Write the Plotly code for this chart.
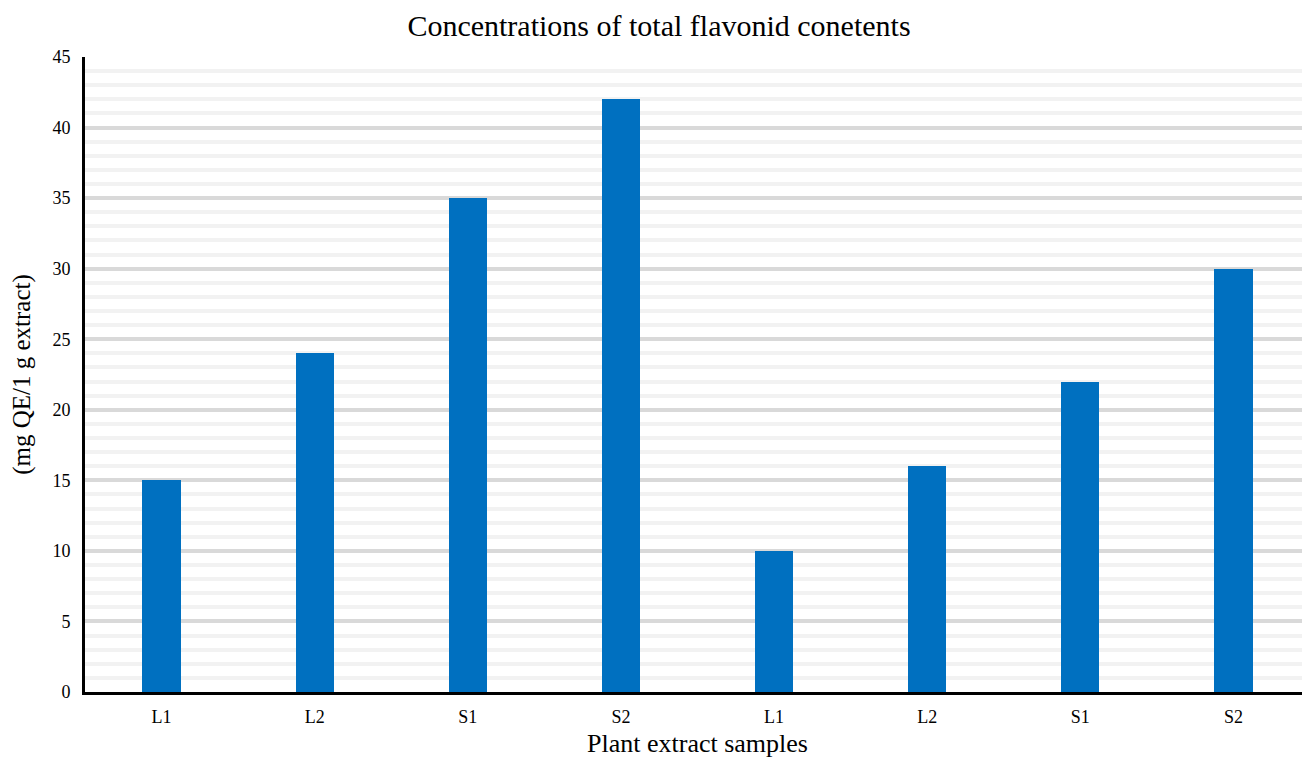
import plotly.graph_objects as go

categories = ["L1", "L2", "S1", "S2", "L1", "L2", "S1", "S2"]
values = [15, 24, 35, 42, 10, 16, 22, 30]
positions = list(range(len(categories)))

fig = go.Figure()
fig.add_trace(go.Bar(
    x=positions, y=values, width=0.25,
    marker=dict(color="#0070c0", line=dict(width=0)),
))

font = "Liberation Serif, Times New Roman, serif"
fig.update_layout(
    width=1302, height=750,
    margin=dict(l=77, r=0, t=49, b=66),
    plot_bgcolor="white", paper_bgcolor="white",
    showlegend=False,
    font=dict(family=font, color="black"),
    title=dict(text="Concentrations of total flavonid conetents", x=0.5, xanchor="center",
               y=0.977, yanchor="middle", font=dict(size=30, family=font, color="black")),
    xaxis=dict(
        range=[-0.5, 7.5], tickmode="array", tickvals=positions, ticktext=categories,
        showgrid=False, showline=True, linecolor="black", linewidth=3,
        ticks="", tickfont=dict(size=18, family=font), automargin=False, ticklabelstandoff=6,
        title=dict(text="Plant extract samples", font=dict(size=26, family=font), standoff=10),
        zeroline=False,
    ),
    yaxis=dict(
        range=[0, 45], dtick=5, showgrid=True, gridcolor="#d9d9d9", gridwidth=4,
        minor=dict(dtick=1, showgrid=True, gridcolor="#f2f2f2", gridwidth=4),
        showline=True, linecolor="black", linewidth=3, ticks="",
        tickfont=dict(size=18, family=font), automargin=False, ticklabelstandoff=8,
        title=dict(text="(mg QE/1 g extract)", font=dict(size=25, family=font), standoff=20),
        zeroline=False,
    ),
    bargap=0,
)

fig.write_html("out.html")
